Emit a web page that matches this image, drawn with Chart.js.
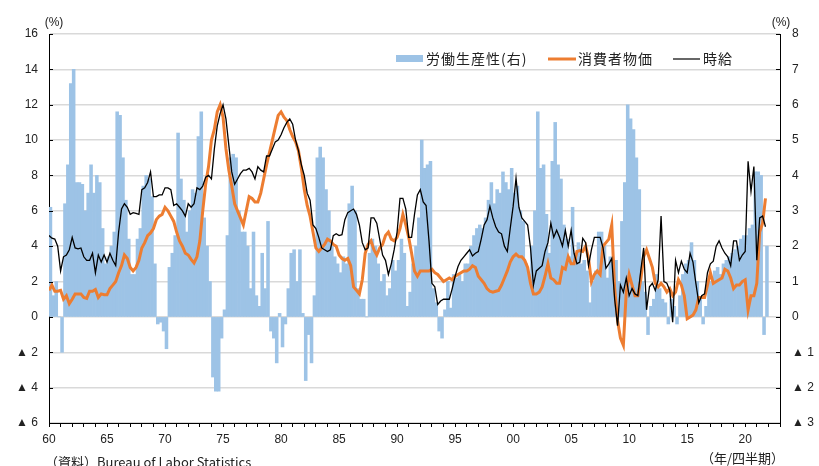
<!DOCTYPE html>
<html lang="ja">
<head>
<meta charset="utf-8">
<title>労働生産性・消費者物価・時給</title>
<script src="https://cdn.jsdelivr.net/npm/chart.js@4.4.1/dist/chart.umd.min.js"></script>
<style>
  html, body { margin: 0; padding: 0; background: #fff; }
  #wrap { position: relative; width: 819px; height: 466px; }
</style>
</head>
<body>
<div id="wrap"><canvas id="chart" width="819" height="466"></canvas></div>
<script>
const startYear = 1960;

// 労働生産性 (前年比, %, 右軸) 1960Q1 - 2021Q4
const productivity = [
  3.1, 0.6, 1.0, 0.0,    -1.0, 3.2, 4.3, 6.6,      // 60-61
  7.0, 3.8, 3.8, 3.75,   3.0, 3.5, 4.3, 3.5,       // 62-63
  4.0, 3.8, 2.5, 1.5,    1.7, 2.0, 2.4, 5.8,       // 64-65
  5.7, 4.5, 3.3, 2.2,    1.2, 1.2, 2.2, 2.5,       // 66-67
  3.7, 4.0, 3.9, 3.4,    1.5, -0.2, -0.15, -0.4,   // 68-69
  -0.9, 1.4, 1.8, 2.3,   5.2, 3.9, 3.3, 2.4,       // 70-71
  3.0, 3.6, 3.5, 5.1,    5.8, 2.8, 2.0, 1.0,       // 72-73
  -1.7, -2.1, -2.1, -0.6, 0.2, 2.3, 4.5, 4.6,      // 74-75
  4.5, 3.0, 2.4, 2.4,    2.0, 0.8, 2.4, 0.6,       // 76-77
  0.3, 1.8, 0.8, 2.7,    -0.4, -0.6, -1.3, 0.1,    // 78-79
  -0.85, -0.2, 0.8, 1.8, 1.9, 1.0, 1.9, 0.1,       // 80-81
  -1.8, -0.5, -1.3, 0.6, 4.5, 4.8, 4.5, 3.6,       // 82-83
  3.0, 2.0, 1.7, 1.5,    1.25, 1.7, 1.5, 3.2,      // 84-85
  3.7, 3.0, 0.8, 0.5,    0.5, 0.0, 1.8, 2.2,       // 86-87
  2.0, 1.5, 1.0, 1.2,    0.6, 0.8, 1.6, 1.3,       // 88-89
  1.6, 2.2, 1.8, 0.3,    0.7, 1.5, 2.0, 2.8,       // 90-91
  5.0, 4.2, 4.3, 4.4,    0.8, 0.4, -0.4, -0.6,     // 92-93
  0.2, 1.0, 0.25, 1.2,   1.1, 1.2, 1.0, 1.5,       // 94-95
  1.5, 2.0, 2.3, 2.5,    2.6, 2.5, 2.8, 3.3,       // 96-97
  3.8, 3.2, 3.6, 3.5,    4.1, 3.8, 3.6, 4.2,       // 98-99
  3.5, 3.7, 3.0, 2.7,    1.5, 1.2, 2.0, 3.0,       // 00-01
  5.8, 4.2, 4.3, 2.9,    1.8, 4.4, 5.5, 4.3,       // 02-03
  3.9, 2.6, 2.2, 1.7,    3.1, 1.8, 2.1, 1.5,       // 04-05
  1.6, 1.3, 0.4, 1.0,    1.3, 2.4, 2.4, 2.0,       // 06-07
  1.1, 1.7, 1.5, 1.6,    1.0, 2.7, 3.8, 6.0,       // 08-09
  5.6, 5.3, 4.5, 3.6,    1.0, 0.7, -0.5, 0.3,      // 10-11
  0.5, 1.2, 0.8, 0.5,    0.4, -0.2, 0.5, 0.3,      // 12-13
  -0.2, 0.6, 1.2, 1.5,   1.6, 2.1, 1.6, 1.0,       // 14-15
  0.5, -0.2, 0.3, 1.0,   1.0, 1.3, 1.4, 1.2,       // 16-17
  1.5, 1.6, 1.7, 1.8,    1.9, 2.0, 2.2, 2.3,       // 18-19
  2.3, 2.5, 2.6, 4.1,    4.1, 4.0, -0.5, 2.0,      // 20-21
];

// 消費者物価 (前年比, %, 左軸)
const consumerPrices = [
  1.5, 1.8, 1.45, 1.45,  1.5, 1.0, 1.2, 0.75,      // 60-61
  1.0, 1.3, 1.3, 1.3,    1.1, 1.05, 1.45, 1.45,    // 62-63
  1.55, 1.1, 1.3, 1.25,  1.25, 1.6, 1.8, 2.0,      // 64-65
  2.5, 2.9, 3.5, 3.3,    2.8, 2.6, 2.8, 3.2,       // 66-67
  3.9, 4.2, 4.6, 4.75,   5.0, 5.5, 5.7, 5.8,       // 68-69
  6.2, 6.0, 5.7, 5.4,    4.8, 4.3, 4.0, 3.6,       // 70-71
  3.5, 3.25, 3.05, 3.4,  4.3, 6.0, 7.5, 8.5,       // 72-73
  10.0, 10.6, 11.6, 12.0, 11.3, 9.5, 8.3, 7.4,     // 74-75
  6.4, 6.0, 5.6, 5.2,    6.0, 6.8, 6.7, 6.5,       // 76-77
  6.5, 7.0, 7.8, 8.6,    9.3, 10.0, 10.7, 11.4,    // 78-79
  11.6, 11.3, 11.1, 10.6, 10.2, 9.9, 9.4, 8.4,     // 80-81
  7.2, 6.3, 5.7, 4.8,    3.9, 3.7, 3.9, 4.1,       // 82-83
  4.4, 4.3, 4.1, 4.0,    3.5, 3.3, 3.2, 3.3,       // 84-85
  2.9, 1.7, 1.5, 1.3,    2.1, 3.6, 4.1, 4.3,       // 86-87
  3.8, 3.5, 3.9, 4.1,    4.6, 4.8, 4.4, 4.3,       // 88-89
  4.5, 5.0, 5.8, 5.2,    4.5, 3.6, 2.6, 2.3,       // 90-91
  2.6, 2.6, 2.6, 2.6,    2.7, 2.5, 2.4, 2.2,       // 92-93
  2.0, 2.1, 2.2, 2.1,    2.3, 2.4, 2.5, 2.6,       // 94-95
  2.6, 2.7, 2.9, 2.8,    2.3, 2.1, 1.9, 1.6,       // 96-97
  1.45, 1.4, 1.45, 1.5,  1.8, 2.2, 2.6, 3.1,       // 98-99
  3.4, 3.55, 3.4, 3.4,   3.2, 2.8, 1.9, 1.3,       // 00-01
  1.3, 1.4, 1.7, 2.3,    3.0, 2.2, 2.1, 1.9,       // 02-03
  1.9, 2.8, 2.7, 3.4,    3.0, 3.0, 3.7, 3.75,      // 04-05
  3.7, 4.0, 3.3, 2.0,    2.4, 2.6, 2.4, 4.0,       // 06-07
  4.2, 4.4, 5.2, 1.6,    -0.2, -1.2, -1.6, 1.4,    // 08-09
  2.4, 1.8, 1.2, 1.2,    2.1, 3.4, 3.8, 3.3,       // 10-11
  2.8, 1.9, 1.7, 1.9,    1.7, 1.4, 1.6, 1.2,       // 12-13
  1.4, 2.1, 1.8, 1.2,    -0.1, 0.0, 0.1, 0.4,      // 14-15
  1.1, 1.1, 1.1, 1.8,    2.5, 1.9, 2.0, 2.1,       // 16-17
  2.2, 2.7, 2.6, 2.2,    1.6, 1.8, 1.8, 2.0,       // 18-19
  2.1, 0.4, 1.2, 1.2,    1.9, 4.8, 5.3, 6.7,       // 20-21
];

// 時給 (前年比, %, 左軸)
const hourlyWage = [
  4.6, 4.45, 4.4, 4.0,   2.6, 3.4, 3.5, 3.8,       // 60-61
  4.5, 3.9, 3.85, 3.9,   3.4, 3.2, 3.2, 3.6,       // 62-63
  2.5, 3.5, 3.1, 3.5,    3.1, 3.6, 3.2, 2.9,       // 64-65
  4.8, 6.1, 6.4, 6.2,    5.8, 5.9, 5.85, 5.8,      // 66-67
  7.2, 7.3, 7.6, 8.2,    6.8, 6.8, 6.9, 6.9,       // 68-69
  7.3, 7.3, 7.2, 6.3,    6.4, 6.2, 6.0, 5.7,       // 70-71
  6.4, 6.2, 6.4, 7.3,    7.2, 7.4, 7.9, 8.0,       // 72-73
  7.8, 9.5, 10.8, 11.5,  12.0, 11.2, 9.7, 8.2,     // 74-75
  7.5, 7.8, 8.1, 8.3,    8.3, 8.4, 8.2, 7.8,       // 76-77
  8.5, 8.3, 8.2, 9.1,    9.1, 9.5, 9.9, 10.0,      // 78-79
  10.3, 10.7, 11.0, 11.2, 10.9, 10.0, 9.4, 8.6,    // 80-81
  8.0, 7.0, 6.6, 5.2,    5.0, 4.5, 3.9, 3.8,       // 82-83
  3.7, 3.8, 4.6, 4.7,    4.6, 4.65, 5.5, 5.9,      // 84-85
  6.0, 6.1, 5.8, 5.2,    4.2, 3.8, 3.9, 5.6,       // 86-87
  5.6, 5.3, 4.4, 3.5,    3.2, 2.4, 3.0, 3.8,       // 88-89
  4.8, 6.7, 6.7, 6.1,    4.5, 4.5, 5.8, 6.9,       // 90-91
  7.2, 6.5, 6.3, 4.3,    1.9, 1.7, 0.7, 0.9,       // 92-93
  1.0, 1.0, 1.0, 1.6,    2.3, 2.85, 3.2, 3.4,      // 94-95
  3.6, 3.8, 3.45, 3.6,   3.7, 4.4, 5.2, 5.5,       // 96-97
  6.25, 5.6, 5.1, 4.8,   4.7, 4.0, 3.7, 5.0,       // 98-99
  6.25, 7.85, 6.2, 5.6,  5.4, 5.2, 3.9, 1.8,       // 00-01
  2.6, 2.75, 2.9, 3.7,   4.2, 5.3, 4.5, 4.9,       // 02-03
  4.5, 4.0, 4.9, 4.0,    4.9, 3.6, 3.0, 3.1,       // 04-05
  4.45, 4.2, 2.9, 3.8,   4.5, 4.5, 4.5, 3.9,       // 06-07
  2.75, 3.0, 3.3, 1.0,   -0.5, 1.8, 1.4, 2.2,      // 08-09
  1.2, 1.6, 1.3, 1.2,    2.6, 3.9, 0.4, 1.7,       // 10-11
  1.9, 1.5, 2.1, 5.7,    2.0, 1.9, 1.5, -0.3,      // 12-13
  3.2, 2.5, 3.15, 2.7,   2.5, 3.6, 3.1, 1.9,       // 14-15
  0.8, 1.2, 1.3, 2.5,    3.0, 3.15, 4.0, 4.3,      // 16-17
  3.9, 3.6, 3.4, 2.9,    4.3, 4.3, 3.2, 3.5,       // 18-19
  3.7, 8.8, 7.1, 8.5,    3.2, 5.6, 5.7, 5.1,       // 20-21
];

const leftTicks = [16, 14, 12, 10, 8, 6, 4, 2, 0, -2, -4, -6];
const rightTicks = [8, 7, 6, 5, 4, 3, 2, 1, 0, -1, -2, -3];
const labelYears = [1960, 1965, 1970, 1975, 1980, 1985, 1990, 1995, 2000, 2005, 2010, 2015, 2020];

// bars sit in the middle of each quarter, lines at its start
function quarterPoints(values, offset) {
  return values.map((v, i) => ({ x: startYear + i / 4 + offset, y: v }));
}

function signedLabel(v) {
  return v < 0 ? '▲ ' + (-v) : String(v);
}

const textColor = '#222';
const numFont = { family: '"Liberation Sans", Arial, sans-serif', size: 12 };

const extras = {
  id: 'extras',
  afterDraw(chart) {
    const { ctx, chartArea } = chart;
    const yl = chart.scales.y;
    const yr = chart.scales.y2;
    ctx.save();

    // short inner tick marks on both value axes
    ctx.strokeStyle = '#000';
    ctx.lineWidth = 1;
    ctx.beginPath();
    leftTicks.forEach((v) => {
      const py = Math.round(yl.getPixelForValue(v)) + 0.5;
      ctx.moveTo(chartArea.left, py);
      ctx.lineTo(chartArea.left + 4, py);
    });
    rightTicks.forEach((v) => {
      const py = Math.round(yr.getPixelForValue(v)) + 0.5;
      ctx.moveTo(chartArea.right - 4, py);
      ctx.lineTo(chartArea.right, py);
    });
    ctx.stroke();

    // unit labels
    ctx.fillStyle = textColor;
    ctx.font = '12px "Liberation Sans", Arial, sans-serif';
    ctx.textBaseline = 'middle';
    ctx.textAlign = 'center';
    ctx.fillText('(%)', 54, 23);
    ctx.fillText('(%)', 781, 23);

    // legend
    const cjk = '"Noto Sans CJK JP", sans-serif';
    ctx.font = '14px ' + cjk;
    ctx.letterSpacing = '1px';
    ctx.textAlign = 'left';
    ctx.fillStyle = '#9DC3E6';
    ctx.fillRect(396, 55, 27, 7);
    ctx.fillStyle = textColor;
    ctx.fillText('労働生産性(右)', 426, 59);

    ctx.strokeStyle = '#ED7D31';
    ctx.lineWidth = 3;
    ctx.beginPath();
    ctx.moveTo(548, 59);
    ctx.lineTo(576, 59);
    ctx.stroke();
    ctx.fillText('消費者物価', 578, 59);

    ctx.strokeStyle = '#000';
    ctx.lineWidth = 1.2;
    ctx.beginPath();
    ctx.moveTo(673, 59);
    ctx.lineTo(700, 59);
    ctx.stroke();
    ctx.fillText('時給', 703, 59);

    // source and period notes
    ctx.letterSpacing = '0px';
    ctx.font = '13px ' + cjk;
    ctx.textBaseline = 'alphabetic';
    ctx.fillText('（資料）Bureau of Labor Statistics', 45, 467);
    ctx.fillText('（年/四半期）', 701, 463);
    ctx.restore();
  },
};

const ctx = document.getElementById('chart').getContext('2d');

const config = {
  type: 'bar',
  data: {
    datasets: [
      {
        type: 'line',
        label: '時給',
        data: quarterPoints(hourlyWage, 0),
        borderColor: '#000',
        borderWidth: 1.3,
        pointRadius: 0,
        tension: 0,
        yAxisID: 'y',
        order: 1,
      },
      {
        type: 'line',
        label: '消費者物価',
        data: quarterPoints(consumerPrices, 0),
        borderColor: '#ED7D31',
        borderWidth: 3,
        pointRadius: 0,
        tension: 0,
        yAxisID: 'y',
        order: 2,
      },
      {
        type: 'bar',
        label: '労働生産性(右)',
        data: quarterPoints(productivity, 0.125),
        backgroundColor: '#9DC3E6',
        borderWidth: 0,
        categoryPercentage: 1,
        barPercentage: 1,
        yAxisID: 'y2',
        order: 3,
      },
    ],
  },
  options: {
    responsive: false,
    animation: false,
    layout: { padding: { top: 34, left: 0, right: 0, bottom: 0 } },
    plugins: {
      legend: { display: false },
      tooltip: { enabled: false },
    },
    scales: {
      x: {
        type: 'linear',
        offset: false,
        min: 1960,
        max: 2023,
        afterFit: (scale) => { scale.height = 43; },
        afterBuildTicks: (scale) => {
          const t = [];
          for (let yr = 1960; yr <= 2023; yr++) t.push({ value: yr });
          scale.ticks = t;
        },
        ticks: {
          autoSkip: false,
          maxRotation: 0,
          padding: 5,
          color: textColor,
          font: numFont,
          callback: (v) => (labelYears.includes(v) ? String(v % 100).padStart(2, '0') : ''),
        },
        grid: { offset: false, drawOnChartArea: false, drawTicks: true, tickLength: 4, color: '#000' },
        border: { color: '#000', width: 1 },
      },
      y: {
        position: 'left',
        min: -6,
        max: 16,
        afterFit: (scale) => { scale.width = 49; },
        afterBuildTicks: (scale) => { scale.ticks = leftTicks.map((v) => ({ value: v })); },
        ticks: { padding: 11, color: textColor, font: numFont, callback: signedLabel },
        grid: { color: '#d9d9d9', lineWidth: 1.5, drawTicks: false },
        border: { color: '#000', width: 1 },
      },
      y2: {
        position: 'right',
        min: -3,
        max: 8,
        afterFit: (scale) => { scale.width = 39; },
        afterBuildTicks: (scale) => { scale.ticks = rightTicks.map((v) => ({ value: v })); },
        ticks: { padding: 12, color: textColor, font: numFont, callback: signedLabel },
        grid: { drawOnChartArea: false, drawTicks: false },
        border: { color: '#000', width: 1 },
      },
    },
  },
  plugins: [extras],
};

const chartInstance = new Chart(ctx, config);
</script>
</body>
</html>
